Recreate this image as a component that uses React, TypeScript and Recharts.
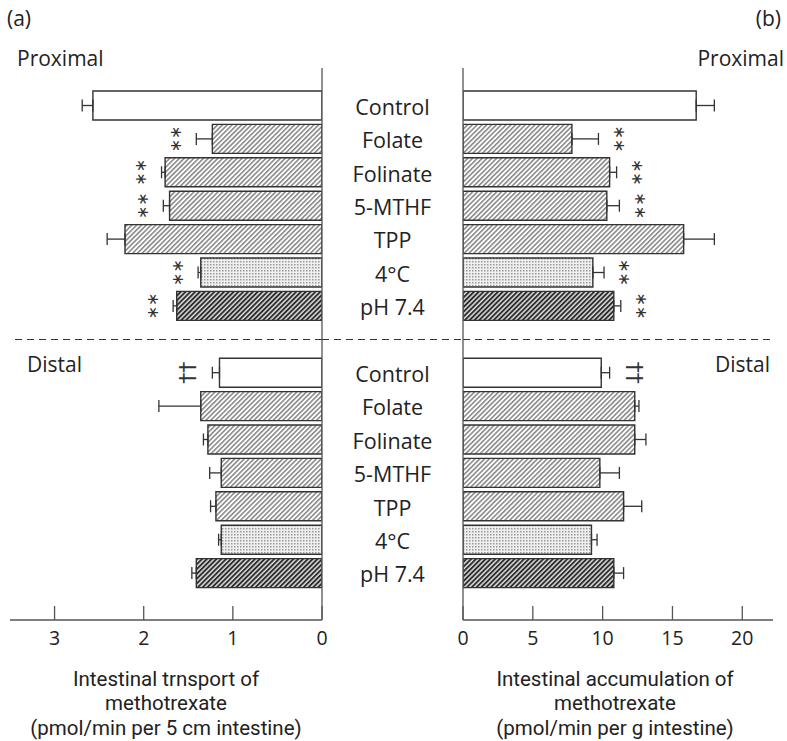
import React from 'react';
import { BarChart, Bar, XAxis, YAxis, Cell, ErrorBar, LabelList, ReferenceLine } from 'recharts';

const treatments = ['Control', 'Folate', 'Folinate', '5-MTHF', 'TPP', '4°C', 'pH 7.4'];

// (a) intestinal transport, pmol/min per 5 cm
const transportProximal = [2.57, 1.23, 1.76, 1.71, 2.21, 1.36, 1.63];
const transportProximalErr = [0.12, 0.18, 0.04, 0.07, 0.2, 0.03, 0.04];
const transportDistal = [1.15, 1.36, 1.28, 1.13, 1.19, 1.13, 1.41];
const transportDistalErr = [0.08, 0.47, 0.05, 0.13, 0.06, 0.03, 0.05];

// (b) intestinal accumulation, pmol/min per g
const accumProximal = [16.7, 7.8, 10.5, 10.3, 15.8, 9.3, 10.8];
const accumProximalErr = [1.3, 1.9, 0.5, 0.9, 2.2, 0.8, 0.5];
const accumDistal = [9.9, 12.3, 12.3, 9.8, 11.5, 9.2, 10.8];
const accumDistalErr = [0.6, 0.3, 0.8, 1.4, 1.3, 0.4, 0.7];

const sigProximal = ['', '**', '**', '**', '', '**', '**'];
const sigDistal = ['††', '', '', '', '', '', ''];

const transportTicks = [0, 1, 2, 3];
const accumTicks = [0, 5, 10, 15, 20];

const transportTitle = ['Intestinal trnsport of', 'methotrexate', '(pmol/min per 5 cm intestine)'];
const accumTitle = ['Intestinal accumulation of', 'methotrexate', '(pmol/min per g intestine)'];

const FONT = '"Open Sans", "Noto Sans", sans-serif';
const TITLE_FONT = 'Roboto, "Liberation Sans", sans-serif';
const INK = '#222';
const LABEL_W = 141;

type Row = { id: string; name: string; value: number | null; err?: number[]; errSize: number; sig: string };

const buildRows = (prox: number[], proxErr: number[], dist: number[], distErr: number[]): Row[] => {
  const rows: Row[] = [];
  treatments.forEach((name, i) =>
    rows.push({ id: `p${i}`, name, value: prox[i], err: [0, proxErr[i]], errSize: proxErr[i], sig: sigProximal[i] })
  );
  rows.push({ id: 'gap', name: '', value: null, errSize: 0, sig: '' });
  treatments.forEach((name, i) =>
    rows.push({ id: `d${i}`, name, value: dist[i], err: [0, distErr[i]], errSize: distErr[i], sig: sigDistal[i] })
  );
  return rows;
};

const transportRows = buildRows(transportProximal, transportProximalErr, transportDistal, transportDistalErr);
const accumRows = buildRows(accumProximal, accumProximalErr, accumDistal, accumDistalErr);

const fillOf = (name: string, prefix: string) => {
  if (name === 'Control') return '#fff';
  if (name === '4°C') return `url(#${prefix}-dots)`;
  if (name === 'pH 7.4') return `url(#${prefix}-dark)`;
  return `url(#${prefix}-hatch)`;
};

const Patterns = ({ prefix }: { prefix: string }) => (
  <defs>
    <pattern id={`${prefix}-hatch`} patternUnits="userSpaceOnUse" width={3.4} height={3.4} patternTransform="rotate(45)">
      <rect width={3.4} height={3.4} fill="#fff" />
      <line x1={0.8} y1={0} x2={0.8} y2={3.4} stroke="#555" strokeWidth={1.1} />
    </pattern>
    <pattern id={`${prefix}-dark`} patternUnits="userSpaceOnUse" width={3.4} height={3.4} patternTransform="rotate(45)">
      <rect width={3.4} height={3.4} fill="#ddd" />
      <line x1={1} y1={0} x2={1} y2={3.4} stroke="#222" strokeWidth={1.8} />
    </pattern>
    <pattern id={`${prefix}-dots`} patternUnits="userSpaceOnUse" width={3} height={3}>
      <rect width={3} height={3} fill="#f0f0f0" />
      <rect width={1.5} height={1.5} fill="#999" />
    </pattern>
  </defs>
);

const AxisTick = (props: any) => {
  const { x, y, payload } = props;
  return (
    <g>
      <line x1={x} x2={x} y1={y - 14} y2={y} stroke="#555" strokeWidth={1.3} />
      <text x={x} y={y + 25} textAnchor="middle" fontSize={19.5} fontFamily={FONT} fill={INK}>
        {payload.value}
      </text>
    </g>
  );
};

const categoryTick = (rows: Row[]) => (props: any) => {
  const { x, y, payload } = props;
  if (payload.value === 'gap') {
    return <line x1={x - LABEL_W} x2={x} y1={y} y2={y} stroke="#333" strokeWidth={1.2} strokeDasharray="7 5" />;
  }
  const row = rows.find((r) => r.id === payload.value);
  return (
    <text x={x - LABEL_W / 2} y={y + 9} textAnchor="middle" fontSize={21.5} fontFamily={FONT} fill={INK}>
      {row ? row.name : ''}
    </text>
  );
};

// significance marks sit just past the error bar; the original figure is set sideways,
// so the pair of marks is a single rotated string
const sigLabel = (rows: Row[], side: 'left' | 'right') => (props: any) => {
  const row = rows.find((r) => r.id === props.value);
  if (!row || !row.sig || row.value == null) return null;
  const vb = props.viewBox || props;
  const x = Number(vb.x), w = Number(vb.width), y = Number(vb.y), h = Number(vb.height);
  const dir = side === 'left' ? -1 : 1;
  const end = side === 'left' ? Math.min(x, x + w) : Math.max(x, x + w);
  const errEnd = end + dir * ((row.errSize * Math.abs(w)) / row.value);
  const cy = y + h / 2;
  const isStar = row.sig === '**';
  const cx = errEnd + dir * (isStar ? 20 : 24);
  const fs = isStar ? 16 : 22;
  const text = isStar ? '∗∗' : '††';
  return (
    <text
      x={cx}
      y={cy + fs * 0.3}
      textAnchor="middle"
      fontSize={fs}
      fontFamily="DejaVu Sans"
      fill="#333"
      transform={`rotate(${dir * 90} ${cx} ${cy})`}
    >
      {text}
    </text>
  );
};

const textStyle = (extra: React.CSSProperties): React.CSSProperties => ({
  position: 'absolute',
  fontSize: 21,
  lineHeight: '23px',
  whiteSpace: 'nowrap',
  ...extra,
});

const AxisTitle = ({ lines, center }: { lines: string[]; center: number }) => (
  <div
    style={textStyle({
      left: center,
      top: 667,
      transform: 'translateX(-50%)',
      textAlign: 'center',
      fontFamily: TITLE_FONT,
      fontSize: 20.5,
      lineHeight: '24.3px',
    })}
  >
    {lines.map((l) => (
      <div key={l}>{l}</div>
    ))}
  </div>
);

export default function App() {
  return (
    <div style={{ position: 'absolute', left: 0, top: 0, width: 787, height: 741, overflow: 'hidden', background: '#fff', fontFamily: FONT, color: INK }}>
      <div style={{ position: 'absolute', left: 0, top: 0 }}>
        <BarChart width={470} height={741} layout="vertical" data={transportRows} margin={{ top: 68, right: 7, bottom: 61, left: 10 }}>
          <Patterns prefix="a" />
          <XAxis
            type="number"
            domain={[0, 3.5]}
            ticks={transportTicks}
            reversed
            allowDataOverflow
            interval={0}
            height={60}
            tickSize={0}
            tickMargin={0}
            tickLine={false}
            tick={(p: any) => <AxisTick {...p} />}
            axisLine={{ stroke: '#555', strokeWidth: 1.3 }}
          />
          <YAxis
            type="category"
            dataKey="id"
            orientation="right"
            width={LABEL_W}
            tick={false}
            tickLine={false}
            axisLine={{ stroke: '#555', strokeWidth: 1.3 }}
            padding={{ top: 21, bottom: 30 }}
          />
          <ReferenceLine y="gap" stroke="#333" strokeWidth={1.2} strokeDasharray="7 5" />
          <Bar dataKey="value" barSize={29} isAnimationActive={false} stroke="#333" strokeWidth={1.4}>
            {transportRows.map((r) => (
              <Cell key={r.id} fill={fillOf(r.name, 'a')} />
            ))}
            <ErrorBar dataKey="err" direction="x" width={6} stroke="#333" strokeWidth={1.3} isAnimationActive={false} />
            <LabelList dataKey="id" content={sigLabel(transportRows, 'left')} />
          </Bar>
        </BarChart>
      </div>

      <div style={{ position: 'absolute', left: 322, top: 0 }}>
        <BarChart width={465} height={741} layout="vertical" data={accumRows} margin={{ top: 68, right: 14, bottom: 61, left: 0 }}>
          <Patterns prefix="b" />
          <XAxis
            type="number"
            domain={[0, 22.2]}
            ticks={accumTicks}
            allowDataOverflow
            interval={0}
            height={60}
            tickSize={0}
            tickMargin={0}
            tickLine={false}
            tick={(p: any) => <AxisTick {...p} />}
            axisLine={{ stroke: '#555', strokeWidth: 1.3 }}
          />
          <YAxis
            type="category"
            dataKey="id"
            orientation="left"
            width={LABEL_W}
            interval={0}
            tickSize={0}
            tickMargin={0}
            tickLine={false}
            tick={categoryTick(accumRows)}
            axisLine={{ stroke: '#555', strokeWidth: 1.3 }}
            padding={{ top: 21, bottom: 30 }}
          />
          <ReferenceLine y="gap" stroke="#333" strokeWidth={1.2} strokeDasharray="7 5" />
          <Bar dataKey="value" barSize={29} isAnimationActive={false} stroke="#333" strokeWidth={1.4}>
            {accumRows.map((r) => (
              <Cell key={r.id} fill={fillOf(r.name, 'b')} />
            ))}
            <ErrorBar dataKey="err" direction="x" width={6} stroke="#333" strokeWidth={1.3} isAnimationActive={false} />
            <LabelList dataKey="id" content={sigLabel(accumRows, 'right')} />
          </Bar>
        </BarChart>
      </div>

      <div style={textStyle({ left: 7, top: 7 })}>(a)</div>
      <div style={textStyle({ right: 6, top: 7 })}>(b)</div>
      <div style={textStyle({ left: 17, top: 47 })}>Proximal</div>
      <div style={textStyle({ right: 3, top: 47 })}>Proximal</div>
      <div style={textStyle({ left: 27, top: 353 })}>Distal</div>
      <div style={textStyle({ right: 17, top: 353 })}>Distal</div>

      <AxisTitle lines={transportTitle} center={166} />
      <AxisTitle lines={accumTitle} center={615} />
    </div>
  );
}
